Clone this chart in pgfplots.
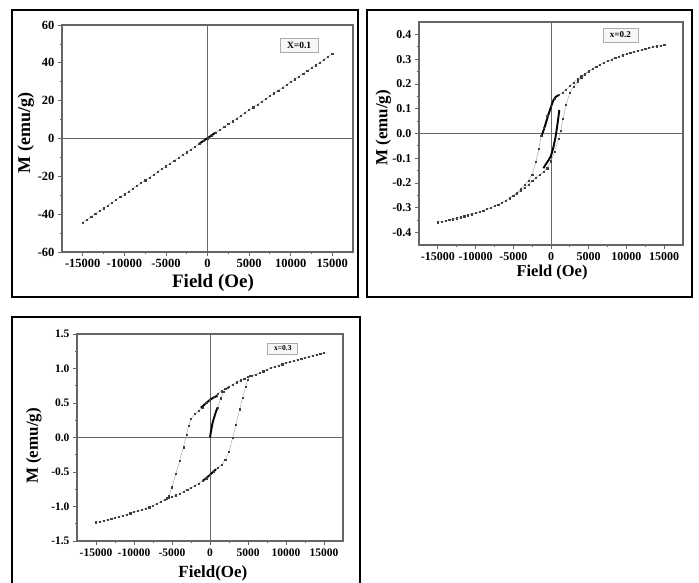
\documentclass[border=0pt]{standalone}
\usepackage{fontspec}
\setmainfont{Liberation Serif}
\usepackage{pgfplots}
\pgfplotsset{compat=1.18}

\pgfplotsset{
  mh/.style={
    scale only axis, anchor=south west,
    tick pos=left, tick align=outside,
    axis line style={draw=black!60, line width=1.1pt},
    every tick/.style={black!60, line width=0.8pt},
    major tick length=4pt, minor tick length=2pt,
    minor tick num=1,
    xmin=-17500, xmax=17500,
    xtick={-15000,-10000,...,15000},
    scaled ticks=false,
    /pgf/number format/assume math mode=true,
    /pgf/number format/1000 sep={},
    tick label style={font=\fontsize{12.5}{12.5}\selectfont\bfseries},
    clip=true,
  },
  sparse/.style={gray!75, line width=0.4pt, mark=square*, mark size=0.6pt,
    mark options={draw=black!75, fill=black!75}},
  dense/.style={black, line width=1.9pt, no markers},
}
\tikzset{tag/.style={draw=gray!65, fill=gray!6, line width=0.8pt, inner sep=0pt}}

\begin{document}
\begin{tikzpicture}
\path[use as bounding box] (0,0) rectangle (699pt,583pt);
\draw[line width=2.6pt] (12pt,286pt) rectangle (358pt,573pt);
\draw[line width=2.6pt] (367pt,286pt) rectangle (692pt,573pt);
\draw[line width=2.6pt] (12pt,-10pt) rectangle (360pt,266pt);

% ---------- x = 0.1 ----------
\begin{axis}[mh, at={(62pt,331pt)}, width=291pt, height=227pt,
  ymin=-60, ymax=60, ytick={-60,-40,...,60},
  xlabel={Field (Oe)}, ylabel={M (emu/g)},
  xlabel style={font=\fontsize{19}{19}\selectfont\bfseries, at={(axis description cs:0.519,-0.137)}, anchor=center},
  ylabel style={font=\fontsize{18}{18}\selectfont\bfseries, at={(axis description cs:-0.124,0.524)}, anchor=center}]
\draw[black!60, line width=1pt] (axis cs:0,-60) -- (axis cs:0,60);
\draw[black!60, line width=1pt] (axis cs:-17500,0) -- (axis cs:17500,0);
\addplot[sparse] coordinates {
(-15000,-44.31) (-14500,-42.82) (-14000,-41.34) (-13500,-39.86) (-13000,-38.37)
(-12500,-36.89) (-12000,-35.40) (-11500,-33.92) (-11000,-32.44) (-10500,-30.95)
(-10000,-29.47) (-9500,-27.99) (-9000,-26.50) (-8500,-25.02) (-8000,-23.54)
(-7500,-22.05) (-7000,-20.57) (-6500,-19.09) (-6000,-17.60) (-5500,-16.12)
(-5000,-14.64) (-4500,-13.15) (-4000,-11.67) (-3500,-10.18) (-3000,-8.70)
(-2500,-7.22) (-2000,-5.73) (-1500,-4.25) (-1000,-2.77) (-500,-1.28)
(0,0.20) (500,1.68) (1000,3.17) (1500,4.65) (2000,6.13) (2500,7.62)
(3000,9.10) (3500,10.58) (4000,12.07) (4500,13.55) (5000,15.04)
(5500,16.52) (6000,18.00) (6500,19.49) (7000,20.97) (7500,22.45)
(8000,23.94) (8500,25.42) (9000,26.90) (9500,28.39) (10000,29.87)
(10500,31.35) (11000,32.84) (11500,34.32) (12000,35.80) (12500,37.29)
(13000,38.77) (13500,40.26) (14000,41.74) (14500,43.22) (15000,44.71)};
\addplot[dense] coordinates {(-1000,-2.8) (-500,-1.3) (0,0.2) (500,1.7) (1000,3.2)};
\node[tag, minimum width=38pt, minimum height=14pt, font=\fontsize{9.5}{9.5}\selectfont\bfseries]
  at (rel axis cs:0.815,0.912) {X=0.1};
\end{axis}

% ---------- x = 0.2 ----------
\begin{axis}[mh, at={(419pt,338pt)}, width=264pt, height=223pt,
  ymin=-0.45, ymax=0.45, ytick={-0.4,-0.3,...,0.41},
  yticklabel style={/pgf/number format/.cd, fixed, fixed zerofill, precision=1},
  tick label style={font=\fontsize{12}{12}\selectfont\bfseries},
  xlabel={Field (Oe)}, ylabel={M (emu/g)},
  xlabel style={font=\fontsize{16.5}{16.5}\selectfont\bfseries, at={(axis description cs:0.504,-0.122)}, anchor=center},
  ylabel style={font=\fontsize{17}{17}\selectfont\bfseries, at={(axis description cs:-0.135,0.525)}, anchor=center}]
\draw[black!60, line width=1pt] (axis cs:0,-0.45) -- (axis cs:0,0.45);
\draw[black!60, line width=1pt] (axis cs:-17500,0) -- (axis cs:17500,0);
\addplot[sparse] coordinates {
(15000,0.358) (14500,0.355) (14000,0.352) (13500,0.349) (13000,0.346) (12500,0.342)
(12000,0.338) (11500,0.334) (11000,0.330) (10500,0.326) (10000,0.321) (9500,0.316)
(9000,0.311) (8500,0.305) (8000,0.299) (7500,0.293) (7000,0.286) (6500,0.278)
(6000,0.270) (5500,0.261) (5000,0.252) (4500,0.242) (4000,0.231) (3500,0.219)
(3000,0.206) (2500,0.192) (2000,0.178) (1500,0.165) (1000,0.155) (500,0.140)
(0,0.112) (-500,0.072) (-1000,0.022) (-1300,-0.010) (-1600,-0.060) (-2000,-0.115)
(-2500,-0.165) (-3000,-0.190) (-3500,-0.208) (-4000,-0.224) (-4500,-0.238) (-5000,-0.250)
(-5500,-0.261) (-6000,-0.270) (-6500,-0.278) (-7000,-0.286) (-7500,-0.293) (-8000,-0.299)
(-8500,-0.305) (-9000,-0.311) (-9500,-0.316) (-10000,-0.321) (-10500,-0.326) (-11000,-0.330)
(-11500,-0.334) (-12000,-0.338) (-12500,-0.342) (-13000,-0.346) (-13500,-0.349) (-14000,-0.352)
(-14500,-0.355) (-15000,-0.358)
(-14500,-0.355) (-14000,-0.352) (-13000,-0.346) (-12000,-0.338) (-11000,-0.330)
(-10000,-0.321) (-9000,-0.311) (-8000,-0.299) (-7000,-0.286) (-6000,-0.270)
(-5000,-0.252) (-4500,-0.242) (-4000,-0.231) (-3500,-0.219) (-3000,-0.206) (-2500,-0.192)
(-2000,-0.178) (-1500,-0.165) (-1000,-0.155) (-500,-0.140) (0,-0.112) (500,-0.072)
(1000,-0.022) (1300,0.010) (1600,0.060) (2000,0.115) (2500,0.165) (3000,0.190)
(3500,0.208) (4000,0.224) (4500,0.238) (5000,0.250) (6000,0.270) (7000,0.286)
(8000,0.299) (9000,0.311) (10000,0.321) (11000,0.330) (12000,0.338) (13000,0.346)
(14000,0.352) (15000,0.358)};
\addplot[dense] coordinates {(1000,0.155) (600,0.147) (300,0.133) (0,0.108)
  (-300,0.080) (-600,0.050) (-900,0.020) (-1200,-0.005)};
\addplot[dense] coordinates {(-1000,-0.140) (-600,-0.120) (-300,-0.107) (0,-0.090)
  (300,-0.058) (600,-0.015) (800,0.025) (1000,0.070) (1100,0.095)};
\node[tag, minimum width=35pt, minimum height=14pt, font=\fontsize{9}{9}\selectfont\bfseries]
  at (rel axis cs:0.763,0.942) {x=0.2};
\end{axis}

% ---------- x = 0.3 ----------
\begin{axis}[mh, at={(77pt,42pt)}, width=266pt, height=207pt,
  ymin=-1.5, ymax=1.5, ytick={-1.5,-1,...,1.5},
  yticklabel style={/pgf/number format/.cd, fixed, fixed zerofill, precision=1},
  tick label style={font=\fontsize{11.5}{11.5}\selectfont\bfseries},
  xlabel={Field(Oe)}, ylabel={M (emu/g)},
  xlabel style={font=\fontsize{17}{17}\selectfont\bfseries, at={(axis description cs:0.511,-0.158)}, anchor=center},
  ylabel style={font=\fontsize{17}{17}\selectfont\bfseries, at={(axis description cs:-0.162,0.459)}, anchor=center}]
\draw[black!60, line width=1pt] (axis cs:0,-1.5) -- (axis cs:0,1.5);
\draw[black!60, line width=1pt] (axis cs:-17500,0) -- (axis cs:17500,0);
\addplot[sparse] coordinates {
(15000,1.228) (14500,1.217) (14000,1.205) (13500,1.190) (13000,1.175) (12500,1.160)
(12000,1.145) (11500,1.130) (11000,1.115) (10500,1.098) (10000,1.080) (9500,1.063)
(9000,1.045) (8500,1.028) (8000,1.010) (7500,0.985) (7000,0.960) (6500,0.935)
(6000,0.910) (5500,0.895) (5000,0.880) (4500,0.855) (4000,0.830) (3500,0.800)
(3000,0.770) (2500,0.740) (2000,0.710) (1500,0.670) (1000,0.640) (500,0.590)
(0,0.550) (-500,0.500) (-1000,0.430) (-1500,0.390) (-2000,0.340) (-2500,0.270)
(-2800,0.170) (-3100,0.040) (-3500,-0.140) (-4000,-0.340) (-4500,-0.530) (-5000,-0.720)
(-5400,-0.850) (-5700,-0.880) (-6000,-0.900) (-6500,-0.930) (-7000,-0.960) (-7500,-0.985)
(-8000,-1.010) (-8500,-1.028) (-9000,-1.045) (-9500,-1.063) (-10000,-1.080) (-10500,-1.098)
(-11000,-1.115) (-11500,-1.130) (-12000,-1.145) (-12500,-1.160) (-13000,-1.175) (-13500,-1.190)
(-14000,-1.205) (-14500,-1.217) (-15000,-1.228)
(-14500,-1.217) (-14000,-1.205) (-13500,-1.190) (-13000,-1.175) (-12500,-1.160)
(-12000,-1.145) (-11500,-1.130) (-11000,-1.115) (-10500,-1.098) (-10000,-1.080) (-9500,-1.063)
(-9000,-1.045) (-8500,-1.028) (-8000,-1.010) (-7500,-0.985) (-7000,-0.960) (-6500,-0.930)
(-6000,-0.900) (-5500,-0.875) (-5000,-0.860) (-4500,-0.835) (-4000,-0.810) (-3500,-0.785)
(-3000,-0.760) (-2500,-0.730) (-2000,-0.700) (-1500,-0.665) (-1000,-0.630) (-500,-0.590)
(0,-0.540) (500,-0.490) (1000,-0.440) (1500,-0.400) (2000,-0.320) (2500,-0.210)
(3000,0.000) (3400,0.180) (3900,0.410) (4300,0.580) (4700,0.740) (5000,0.840)
(5300,0.900) (6000,0.915) (7000,0.960) (8000,1.010) (9000,1.045) (10000,1.080)
(11000,1.115) (12000,1.145) (13000,1.175) (14000,1.205) (15000,1.228)};
\addplot[sparse] coordinates {(1000,0.435) (1400,0.570) (1800,0.660) (2300,0.720)};
\addplot[dense] coordinates {(-1200,0.430) (-800,0.470) (-400,0.510) (0,0.545)
  (400,0.575) (800,0.595) (1000,0.605)};
\addplot[dense] coordinates {(-1000,-0.630) (-600,-0.600) (-200,-0.560) (200,-0.520)
  (600,-0.480) (800,-0.460)};
\addplot[dense] coordinates {(0,0.000) (150,0.100) (350,0.220) (600,0.310)
  (800,0.380) (1000,0.435)};
\node[tag, minimum width=30pt, minimum height=11pt, font=\fontsize{7.5}{7.5}\selectfont\bfseries]
  at (rel axis cs:0.774,0.930) {x=0.3};
\end{axis}
\end{tikzpicture}
\end{document}
